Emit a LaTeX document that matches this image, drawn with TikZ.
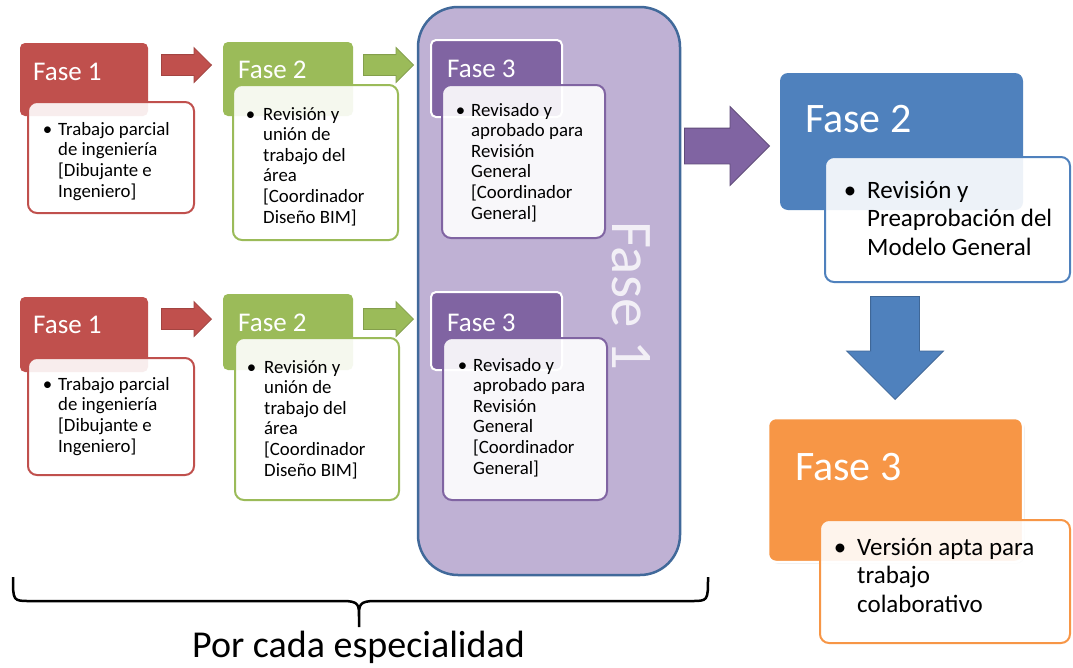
\documentclass[tikz,border=0pt]{standalone}
\usepackage{fontspec}
\setmainfont{Carlito}
\usetikzlibrary{shapes.arrows,shadows}
\definecolor{cred}{HTML}{C0504D}
\definecolor{cgreen}{HTML}{9BBB59}
\definecolor{cpurple}{HTML}{8064A2}
\definecolor{cblue}{HTML}{4F81BD}
\definecolor{corange}{HTML}{F79646}
\definecolor{lav}{HTML}{BFB1D4}
\definecolor{bigborder}{HTML}{41699A}
\begin{document}
\begin{tikzpicture}[x=1pt,y=-1pt,
  phase/.style={rounded corners=5pt, line width=1.5pt, draw=none},
  card/.style={rounded corners=9pt, fill=white, fill opacity=0.9, line width=2pt},
  lbl/.style={inner sep=0pt, anchor=base west, text=white, font=\fontsize{27}{30}\selectfont},
  biglbl/.style={inner sep=0pt, anchor=base west, text=white, font=\fontsize{42}{46}\selectfont},
  body/.style={inner sep=0pt, anchor=base west, align=left, text=black, font=\fontsize{18.8}{20.6}\selectfont},
  bigbody/.style={inner sep=0pt, anchor=base west, align=left, text=black, font=\fontsize{25}{28.5}\selectfont},
  blockarrow/.style={single arrow, single arrow head indent=0pt, inner xsep=0pt, line width=0.8pt, anchor=tip}]
\useasboundingbox (0,0) rectangle (1073,667);
\fill[white] (0,0) rectangle (1073,667);

% big Fase 1 container
\node[rounded corners=40pt, fill=lav, draw=bigborder, line width=2.5pt,
      minimum width=262pt, minimum height=568pt] (big) at (549,291) {};
\node[inner sep=0pt, anchor=base west, rotate=-90, text=white, text opacity=0.8,
      font=\fontsize{59}{64}\selectfont] (bigtxt) at (612,221) {Fase 1};

% ---------- row 1 ----------
\node[phase, fill=cred, minimum width=128pt, minimum height=73pt] (r1) at (84,79.5) {};
\node[lbl] (r1t) at (33,80) {Fase 1};
\node[card, draw=cred, minimum width=166pt, minimum height=111pt] (r1c) at (111,157.5) {};
\node[body] (r1b) at (58,197) {\llap{\textbullet\hspace{6pt}}Trabajo parcial\\de ingeniería\\{[}Dibujante e\\Ingeniero]};

\node[phase, fill=cgreen, minimum width=130pt, minimum height=74pt] (g1) at (288,79) {};
\node[lbl] (g1t) at (238,78) {Fase 2};
\node[card, draw=cgreen, minimum width=165pt, minimum height=155pt] (g1c) at (315.5,162.5) {};
\node[body] (g1b) at (263,223) {\llap{\textbullet\hspace{8pt}}Revisión y\\unión de\\trabajo del\\área\\{[}Coordinador\\Diseño BIM]};

\node[phase, fill=cpurple, draw=white, line width=2pt, minimum width=131pt, minimum height=77pt] (p1) at (496.5,78.5) {};
\node[lbl] (p1t) at (447,77) {Fase 3};
\node[card, draw=cpurple, minimum width=163pt, minimum height=153pt] (p1c) at (523.5,161.5) {};
\node[body] (p1b) at (471,219) {\llap{\textbullet\hspace{6pt}}Revisado y\\aprobado para\\Revisión\\General\\{[}Coordinador\\General]};

\node[blockarrow, fill=cred, draw=cred!85!black, minimum height=50pt, inner ysep=10pt, single arrow head extend=7pt] (a1) at (212,65) {};
\node[blockarrow, fill=cgreen, draw=cgreen!85!black, minimum height=50pt, inner ysep=10pt, single arrow head extend=7pt] (a2) at (414,65) {};

% ---------- row 2 ----------
\node[phase, fill=cred, minimum width=128pt, minimum height=75pt] (r2) at (84,334.5) {};
\node[lbl] (r2t) at (33,333) {Fase 1};
\node[card, draw=cred, minimum width=166pt, minimum height=117pt] (r2c) at (111,416.5) {};
\node[body] (r2b) at (58,452) {\llap{\textbullet\hspace{6pt}}Trabajo parcial\\de ingeniería\\{[}Dibujante e\\Ingeniero]};

\node[phase, fill=cgreen, minimum width=130pt, minimum height=76pt] (g2) at (288,332) {};
\node[lbl] (g2t) at (238,331) {Fase 2};
\node[card, draw=cgreen, minimum width=164pt, minimum height=162pt] (g2c) at (317,419) {};
\node[body] (g2b) at (264,476) {\llap{\textbullet\hspace{8pt}}Revisión y\\unión de\\trabajo del\\área\\{[}Coordinador\\Diseño BIM]};

\node[phase, fill=cpurple, draw=white, line width=2pt, minimum width=131pt, minimum height=78pt] (p2) at (496.5,331) {};
\node[lbl] (p2t) at (447,331) {Fase 3};
\node[card, draw=cpurple, minimum width=164pt, minimum height=162pt] (p2c) at (525,419) {};
\node[body] (p2b) at (473,474) {\llap{\textbullet\hspace{6pt}}Revisado y\\aprobado para\\Revisión\\General\\{[}Coordinador\\General]};

\node[blockarrow, fill=cred, draw=cred!85!black, minimum height=50pt, inner ysep=10pt, single arrow head extend=7pt] (a3) at (212,319) {};
\node[blockarrow, fill=cgreen, draw=cgreen!85!black, minimum height=50pt, inner ysep=10pt, single arrow head extend=7pt] (a4) at (414,319) {};

% ---------- right side ----------
\node[blockarrow, fill=cpurple, draw=cpurple!75!black, minimum height=85pt, inner ysep=17.5pt, single arrow head extend=21.5pt] (a5) at (770,146) {};

\node[phase, rounded corners=8pt, fill=cblue, minimum width=243pt, minimum height=137pt] (bl) at (901.5,141.5) {};
\node[biglbl] (blt) at (805,132) {Fase 2};
\node[card, draw=cblue, minimum width=245pt, minimum height=125pt] (blc) at (947.5,219.5) {};
\node[bigbody] (blb) at (867,255) {\llap{\textbullet\hspace{11pt}}Revisión y\\Preaprobación del\\Modelo General};

\node[blockarrow, rotate=-90, fill=cblue, draw=cblue!80!black, minimum height=103pt, inner ysep=24pt, single arrow head extend=24pt] (a6) at (895,400) {};

\node[phase, rounded corners=8pt, fill=corange, draw=white, line width=2.5pt,
      drop shadow={opacity=0.25, shadow xshift=1.5pt, shadow yshift=-1.5pt},
      minimum width=255pt, minimum height=144pt] (or) at (895.5,490) {};
\node[biglbl] (ort) at (795,480) {Fase 3};
\node[card, draw=corange, minimum width=250pt, minimum height=123pt] (orc) at (945,581.5) {};
\node[bigbody] (orb) at (857,612) {\llap{\textbullet\hspace{11pt}}Versión apta para\\trabajo\\colaborativo};

% ---------- brace ----------
\draw[line width=2.5pt, black]
  (13,577) .. controls (13,601) and (13,601) .. (30,601) -- (343,601)
  .. controls (359,601) and (359,605) .. (359,617) -- (359,627)
  -- (359,617) .. controls (359,605) and (359,601) .. (375,601) -- (691,601)
  .. controls (708,601) and (708,601) .. (708,577);
\node[inner sep=0pt, anchor=base west, text=black, font=\fontsize{38}{42}\selectfont] (por) at (192,657) {Por cada especialidad};
\end{tikzpicture}
\end{document}
